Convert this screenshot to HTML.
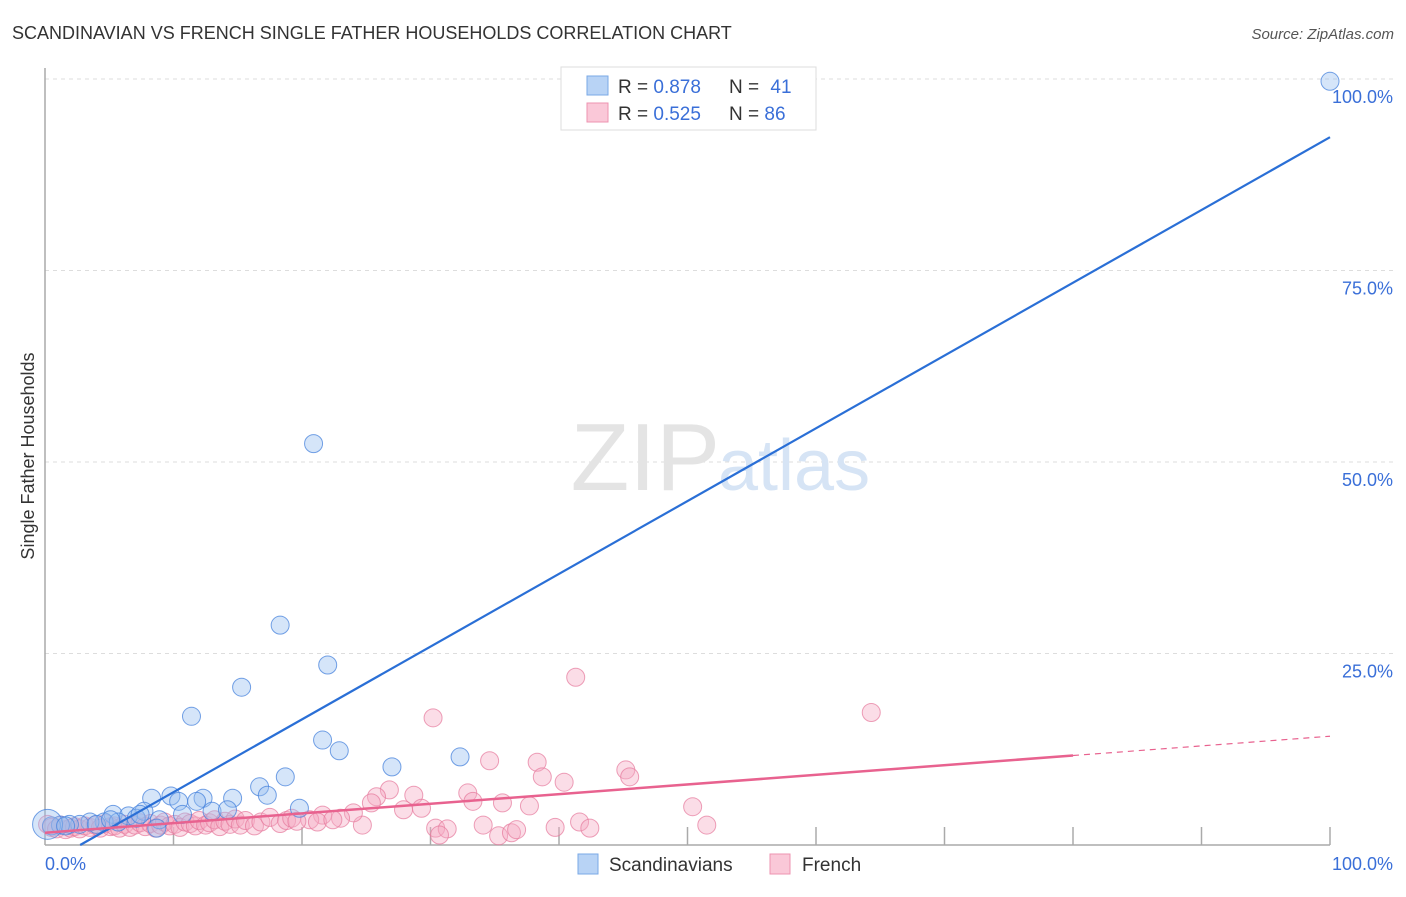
<!DOCTYPE html>
<html><head><meta charset="utf-8"><style>
body{margin:0;background:#fff;font-family:"Liberation Sans",sans-serif}
svg text{font-family:"Liberation Sans",sans-serif}
</style></head><body>
<svg id="chart" width="1406" height="892" viewBox="0 0 1406 892" xmlns="http://www.w3.org/2000/svg">
<text x="12" y="39" font-size="18" fill="#333">SCANDINAVIAN VS FRENCH SINGLE FATHER HOUSEHOLDS CORRELATION CHART</text>
<text x="1394" y="39" font-size="15" fill="#555" font-style="italic" text-anchor="end">Source: ZipAtlas.com</text>
<g id="grid"></g>
<text x="720" y="490" font-size="96" fill="#e4e4e4" text-anchor="end" font-family="Liberation Serif">ZIP</text>
<text x="718" y="490" font-size="72" fill="#d6e4f5">atlas</text>
<line x1="45" y1="68" x2="45" y2="845" stroke="#aaa" stroke-width="1.5"/>
<line x1="45" y1="845" x2="1330" y2="845" stroke="#aaa" stroke-width="1.5"/>
<g id="ticks"></g>
<g id="ylabels"></g>
<text x="45" y="870" font-size="18" fill="#3a6fd8">0.0%</text>
<text x="1393" y="870" font-size="18" fill="#3a6fd8" text-anchor="end">100.0%</text>
<text transform="translate(34,456) rotate(-90)" font-size="18" fill="#333" text-anchor="middle">Single Father Households</text>
<g id="pink"></g>
<g id="blue"></g>
<g id="lines"></g>
<g>
<rect x="561" y="67" width="255" height="63" fill="#fff" stroke="#ddd"/>
<rect x="587" y="76" width="21" height="19" fill="#b8d3f5" stroke="#7aa8e6"/>
<rect x="587" y="103" width="21" height="19" fill="#fac8d8" stroke="#ee93b0"/>
<text x="618" y="93" font-size="19" fill="#333">R = <tspan fill="#3a6fd8">0.878</tspan></text>
<text x="729" y="93" font-size="19" fill="#333">N = <tspan fill="#3a6fd8" dx="6">41</tspan></text>
<text x="618" y="120" font-size="19" fill="#333">R = <tspan fill="#3a6fd8">0.525</tspan></text>
<text x="729" y="120" font-size="19" fill="#333">N = <tspan fill="#3a6fd8">86</tspan></text>
</g>
<g>
<rect x="578" y="854" width="20" height="20" fill="#b8d3f5" stroke="#7aa8e6"/>
<text x="609" y="871" font-size="19" fill="#333">Scandinavians</text>
<rect x="770" y="854" width="20" height="20" fill="#fac8d8" stroke="#ee93b0"/>
<text x="802" y="871" font-size="19" fill="#333">French</text>
</g>
</svg>
<script>
const yTicks=[25,50,75,100];
const yTickLabels=["25.0%","50.0%","75.0%","100.0%"];
const xTicks=[10,20,30,40,50,60,70,80,90,100];
const blueX=[100,20.9,18.3,22.0,15.3,11.4,21.6,22.9,27.0,32.3,18.7,16.7,17.3,14.6,8.3,9.8,12.3,10.4,11.8,19.8,7.7,13.0,10.7,5.3,6.5,7.1,8.9,4.6,5.7,3.5,2.7,1.9,1.2,0.5,8.7,4.0,14.2,0.2,1.6,7.4,5.1];
const blueY=[99.7,52.4,28.7,23.5,20.6,16.8,13.7,12.3,10.2,11.5,8.9,7.6,6.5,6.1,6.1,6.4,6.1,5.7,5.7,4.8,4.4,4.4,4.0,4.0,3.8,3.5,3.3,3.0,3.0,3.0,2.7,2.7,2.6,2.5,2.2,2.7,4.6,2.7,2.5,4.0,3.3];
const pinkX=[41.3,64.3,30.2,34.6,38.3,45.2,45.5,38.7,40.4,26.8,28.7,25.8,32.9,33.3,35.6,37.7,25.4,27.9,29.3,50.4,34.1,30.4,31.3,35.3,36.3,36.7,39.7,41.6,42.4,51.5,30.7,24.7,24.0,23.0,21.6,20.6,
0.2,0.5,0.9,1.2,1.6,2.0,2.3,2.7,3.1,3.5,3.9,4.3,4.7,5.1,5.4,5.8,6.2,6.6,7.0,7.4,7.8,8.2,8.6,9.0,9.3,9.7,10.1,10.5,10.9,11.3,11.7,12.0,12.5,12.8,13.2,13.6,14.0,14.4,14.8,15.2,15.6,16.3,16.8,17.5,18.3,18.8,19.2,19.6,21.2,22.4];
const pinkY=[21.9,17.3,16.6,11.0,10.8,9.8,8.9,8.9,8.2,7.2,6.5,6.3,6.8,5.7,5.5,5.1,5.5,4.6,4.8,5.0,2.6,2.2,2.1,1.2,1.6,2.0,2.3,3.0,2.2,2.6,1.3,2.6,4.2,3.5,3.9,3.3,
2.7,2.3,2.1,2.6,2.0,2.2,2.4,2.1,2.5,2.3,2.6,2.2,2.8,2.4,2.5,2.2,2.7,2.3,2.6,2.9,2.4,2.8,2.2,2.6,3.0,2.5,2.7,2.3,3.0,2.8,2.5,3.2,2.6,2.9,3.3,2.4,3.1,2.7,3.4,2.6,3.2,2.5,3.0,3.6,2.8,3.2,3.5,3.1,3.0,3.3];
const blueTrend=[-2.6,92.4];
const pinkTrend=[1.6,14.2];
const X0=45,X1=1330,Y0=845,Y100=79;
const sx=v=>X0+(X1-X0)*v/100;
const sy=v=>Y0-(Y0-Y100)*v/100;
const NS="http://www.w3.org/2000/svg";
function mk(tag,attrs,parent){const e=document.createElementNS(NS,tag);for(const k in attrs)e.setAttribute(k,attrs[k]);parent.appendChild(e);return e;}
const grid=document.getElementById('grid'),yl=document.getElementById('ylabels'),tk=document.getElementById('ticks');
yTicks.forEach((t,i)=>{
 const l=mk('line',{x1:X0,x2:1394,y1:sy(t),y2:sy(t),stroke:'#ddd','stroke-dasharray':'4,4'},grid);
 
 
 const tx=mk('text',{x:1393,y:sy(t)+24,'font-size':18,fill:'#3a6fd8','text-anchor':'end'},yl);
 tx.textContent=yTickLabels[i];
 
 
});
xTicks.forEach(t=>{
 const l=mk('line',{x1:sx(t),x2:sx(t),y1:Y0,y2:Y0-18,stroke:'#aaa','stroke-width':1.5},tk);
 
 
});
const pg=document.getElementById('pink'),bg=document.getElementById('blue');
pinkX.forEach((x,i)=>{
 const c=mk('circle',{cx:sx(x),cy:sy(pinkY[i]),r:9,fill:'rgba(246,170,195,0.4)',stroke:'rgba(230,120,155,0.7)','stroke-width':1},pg);
 
 
});
blueX.forEach((x,i)=>{
 const c=mk('circle',{cx:sx(x),cy:sy(blueY[i]),r:(i===37?15:9),fill:'rgba(150,190,240,0.4)',stroke:'rgba(70,130,220,0.75)','stroke-width':1},bg);
 
 
});
const lg=document.getElementById('lines');
const bx0=(0-blueTrend[0])/(blueTrend[1]-blueTrend[0])*100;
const bl=mk('line',{x1:sx(bx0),y1:sy(0),x2:sx(100),y2:sy(blueTrend[1]),stroke:'#2a6fd6','stroke-width':2.2},lg);


const pAt=v=>pinkTrend[0]+(pinkTrend[1]-pinkTrend[0])*v/100;
const pl=mk('line',{x1:sx(0),y1:sy(pAt(0)),x2:sx(80),y2:sy(pAt(80)),stroke:'#e8628f','stroke-width':2.5},lg);


const pd=mk('line',{x1:sx(80),y1:sy(pAt(80)),x2:sx(100),y2:sy(pAt(100)),stroke:'#e8628f','stroke-width':1.2,'stroke-dasharray':'6,5'},lg);


</script>
</body></html>
